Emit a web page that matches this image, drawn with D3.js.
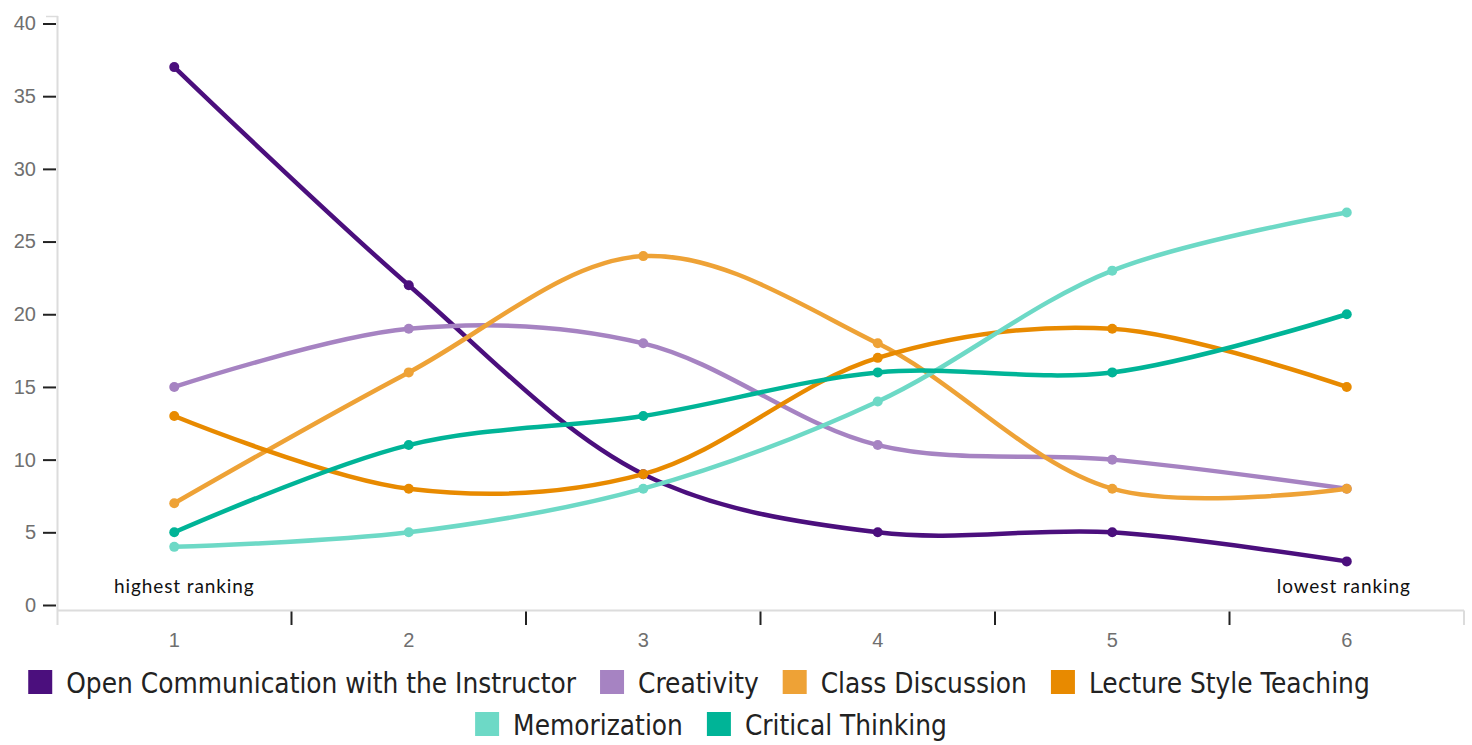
<!DOCTYPE html>
<html>
<head>
<meta charset="utf-8">
<script src="https://cdn.jsdelivr.net/npm/d3@7"></script>
<style>
  html, body { margin: 0; padding: 0; background: #fff; }
  svg { display: block; }
</style>
</head>
<body>
<svg id="chart" width="1472" height="745"></svg>
<script>
const categories = ["1", "2", "3", "4", "5", "6"];
const seriesNames = ["Open Communication with the Instructor", "Creativity", "Class Discussion", "Lecture Style Teaching", "Memorization", "Critical Thinking"];
const openCommunication = [37, 22, 9, 5, 5, 3];
const creativity = [15, 19, 18, 11, 10, 8];
const classDiscussion = [7, 16, 24, 18, 8, 8];
const lectureStyle = [13, 8, 9, 17, 19, 15];
const memorization = [4, 5, 8, 14, 23, 27];
const criticalThinking = [5, 11, 13, 16, 16, 20];
const yTicks = [0, 5, 10, 15, 20, 25, 30, 35, 40];
const colors = ["#4b0f7d", "#a683c2", "#eea236", "#e88a00", "#6dd9c6", "#00b497"];
const annotations = [{ text: "highest ranking", cat: "1" }, { text: "lowest ranking", cat: "6" }];

const seriesValues = [openCommunication, creativity, classDiscussion, lectureStyle, memorization, criticalThinking];
const series = seriesNames.map((name, i) => ({ name, color: colors[i], values: seriesValues[i] }));

const svg = d3.select("#chart");
const left = 57, right = 1464, y0 = 605, yTop = 23.5;

const x = d3.scaleBand().domain(categories).range([left, right]);
const y = d3.scaleLinear().domain([0, 40]).range([y0, yTop]);
const cx = c => x(c) + x.bandwidth() / 2;

// Y axis
const yAxis = svg.append("g").attr("transform", `translate(${left - 1},0)`)
  .call(d3.axisLeft(y).tickValues(yTicks).tickSize(13).tickPadding(7));
yAxis.select(".domain").remove();
yAxis.selectAll(".tick line").attr("stroke", "#222").attr("stroke-width", 2);
yAxis.selectAll(".tick text").attr("fill", "#6f6f6f").style("font-family", "'Liberation Sans', Arial, sans-serif").style("font-size", "20px");
svg.append("line").attr("x1", left + 0.5).attr("x2", left + 0.5).attr("y1", 16).attr("y2", 625)
  .attr("stroke", "#dcdcdc").attr("stroke-width", 2);
svg.append("line").attr("x1", 46).attr("x2", left + 1).attr("y1", 16.5).attr("y2", 16.5)
  .attr("stroke", "#dcdcdc").attr("stroke-width", 1.5);

// X axis
const xAxisY = 610.5;
svg.append("line").attr("x1", left).attr("x2", right).attr("y1", xAxisY).attr("y2", xAxisY)
  .attr("stroke", "#dcdcdc").attr("stroke-width", 2);
svg.append("line").attr("x1", right).attr("x2", right).attr("y1", xAxisY).attr("y2", 625)
  .attr("stroke", "#dcdcdc").attr("stroke-width", 2);
const xAxis = svg.append("g").attr("transform", `translate(0,${xAxisY})`)
  .call(d3.axisBottom(x).tickSize(0).tickPadding(22));
xAxis.select(".domain").remove();
xAxis.selectAll(".tick text").attr("fill", "#6f6f6f").style("font-family", "'Liberation Sans', Arial, sans-serif").style("font-size", "20px");
svg.append("g").selectAll("line").data(categories.slice(1)).join("line")
  .attr("x1", d => x(d)).attr("x2", d => x(d)).attr("y1", xAxisY + 1).attr("y2", 625)
  .attr("stroke", "#222").attr("stroke-width", 2);

// Lines
const line = d3.line().x((d, i) => cx(categories[i])).y(d => y(d)).curve(d3.curveCatmullRom.alpha(0.5));
const g = svg.append("g");
series.forEach(s => {
  g.append("path").attr("d", line(s.values)).attr("fill", "none").attr("stroke", s.color)
    .attr("stroke-width", 4.5).attr("stroke-linejoin", "round").attr("stroke-linecap", "round");
  g.append("g").selectAll("circle").data(s.values).join("circle")
    .attr("cx", (d, i) => cx(categories[i])).attr("cy", d => y(d)).attr("r", 5).attr("fill", s.color);
});

// Annotations
svg.append("g").selectAll("text").data(annotations).join("text")
  .attr("x", d => cx(d.cat) + (d.cat === "1" ? 10 : -3)).attr("y", 593)
  .attr("text-anchor", "middle").attr("fill", "#111")
  .style("font-family", "Lato, 'Open Sans', sans-serif").style("font-size", "19px")
  .style("letter-spacing", "0.9px")
  .text(d => d.text);

// Legend
const legendRows = [{ items: [0, 1, 2, 3], y: 694, center: 699 }, { items: [4, 5], y: 736, center: 711 }];
const legend = svg.append("g");
const fontFamily = "'Liberation Sans Narrow', 'DejaVu Sans Condensed', 'Liberation Sans', sans-serif";
const fontSize = 28;
const sq = 24, gapSqText = 14, gapItem = 24;
const ref = legend.append("text").style("font-family", fontFamily).style("font-size", fontSize + "px").text(seriesNames[0]);
const factor = 510 / ref.node().getComputedTextLength();
ref.remove();
legendRows.forEach(row => {
  const items = row.items.map(i => {
    const gi = legend.append("g");
    gi.append("rect").attr("width", sq).attr("height", sq).attr("y", -sq).attr("fill", series[i].color);
    const t = gi.append("text").attr("x", 0).attr("y", 0)
      .attr("fill", "#222")
      .style("font-family", fontFamily)
      .style("font-size", fontSize + "px").text(series[i].name);
    t.attr("transform", `translate(${sq + gapSqText},-1) scale(${factor},1)`);
    return { gi, w: sq + gapSqText + t.node().getComputedTextLength() * factor };
  });
  const total = d3.sum(items, d => d.w) + gapItem * (items.length - 1);
  let xpos = row.center - total / 2;
  items.forEach(it => {
    it.gi.attr("transform", `translate(${xpos},${row.y})`);
    xpos += it.w + gapItem;
  });
});
</script>
</body>
</html>
